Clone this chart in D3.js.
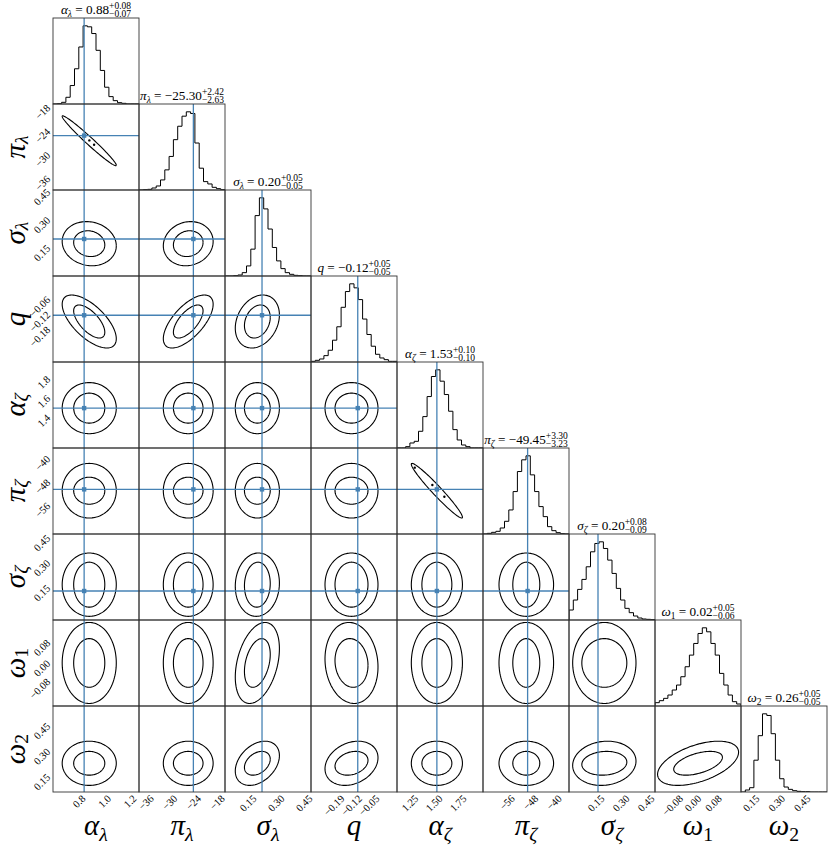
<!DOCTYPE html>
<html>
<head>
<meta charset="utf-8">
<script src="https://cdn.jsdelivr.net/npm/d3@7"></script>
<style>
body { margin: 0; background: #fff; }
svg text { font-family: "Liberation Serif", "DejaVu Serif", serif; fill: #000; }
</style>
</head>
<body>
<svg id="chart" width="830" height="845"></svg>
<script>
// parameter names (symbol + subscript)
const symbols = ["α", "π", "σ", "q", "α", "π", "σ", "ω", "ω"];
const subs = ["λ", "λ", "λ", "", "ζ", "ζ", "ζ", "1", "2"];

// summary values shown in the titles
const medians = [0.88, -25.30, 0.20, -0.12, 1.53, -49.45, 0.20, 0.02, 0.26];
const errPlus = [0.08, 2.42, 0.05, 0.05, 0.10, 3.30, 0.08, 0.05, 0.05];
const errMinus = [0.07, 2.63, 0.05, 0.05, 0.10, 3.23, 0.09, 0.06, 0.05];

// true values (blue lines), none for the omegas
const truths = [0.84, -24, 0.225, -0.095, 1.53, -49, 0.162, null, null];

// axis ranges
const ranges = [
    [0.596, 1.27], [-37.75, -16], [0.027, 0.487], [-0.282, 0.062], [1.115, 2.01],
    [-64.2, -34.9], [-0.012, 0.504], [-0.148, 0.1875], [0.091, 0.597]
];

// tick labels
const xTicks = [
    [0.8, 1.0, 1.2], [-36, -30, -24, -18], [0.15, 0.30, 0.45], [-0.19, -0.12, -0.05],
    [1.25, 1.50, 1.75], [-56, -48, -40], [0.15, 0.30, 0.45], [-0.08, 0.00, 0.08], [0.15, 0.30, 0.45]
];
const xDecimals = [1, 0, 2, 2, 2, 0, 2, 2, 2];
const yTicks = [
    [], [-36, -30, -24, -18], [0.15, 0.30, 0.45], [-0.18, -0.12, -0.06],
    [1.4, 1.6, 1.8], [-56, -48, -40], [0.15, 0.30, 0.45], [-0.08, 0.00, 0.08], [0.15, 0.30, 0.45]
];
const yDecimals = [0, 0, 2, 2, 1, 0, 2, 2, 2];

// 1D histograms, 20 bins across each range
const histCounts = [
    [0, 1, 5, 20, 55, 105, 170, 233, 230, 210, 160, 100, 50, 22, 10, 4, 2, 0, 0, 0],
    [0, 1, 2, 6, 12, 30, 60, 100, 150, 190, 220, 233, 228, 140, 65, 25, 18, 8, 4, 1],
    [0, 0, 1, 3, 10, 30, 80, 180, 233, 200, 140, 85, 45, 22, 10, 5, 2, 1, 0, 0],
    [2, 5, 9, 19, 35, 65, 105, 163, 210, 233, 221, 186, 128, 82, 47, 23, 12, 7, 2, 2],
    [0, 0, 4, 15, 20, 50, 94, 154, 214, 234, 200, 160, 110, 55, 24, 9, 4, 0, 0, 0],
    [0, 2, 5, 8, 18, 38, 72, 127, 187, 222, 234, 177, 127, 82, 52, 22, 10, 4, 1, 0],
    [30, 60, 92, 122, 160, 205, 230, 235, 215, 180, 140, 95, 60, 35, 22, 12, 6, 3, 2, 1],
    [10, 16, 23, 33, 48, 63, 88, 118, 153, 188, 218, 235, 223, 188, 153, 98, 63, 33, 13, 6],
    [0, 6, 13, 96, 170, 236, 231, 176, 96, 40, 15, 8, 4, 2, 1, 1, 0, 0, 0, 0]
];

// contour half-widths (inner, outer) per parameter, in data units
const innerHalf = [0.122, 3.75, 0.069, 0.066, 0.156, 4.6, 0.135, 0.095, 0.07];
const outerHalf = [0.212, 6.3, 0.118, 0.106, 0.266, 9.3, 0.19, 0.158, 0.13];

// correlation for each 2D panel (row i, columns 0..i-1)
const correlations = [
    [],
    [-0.98],
    [-0.1, 0.1],
    [-0.65, 0.65, 0.25],
    [0, 0, 0, 0],
    [0, 0, 0, 0, -0.97],
    [0, 0, 0.05, 0, 0, 0],
    [0, 0, 0.35, -0.1, 0, 0, 0],
    [0, 0, 0.35, 0.25, 0, 0, 0.1, 0.5]
];

// loose sample points in the two thin panels
const pointsPanel = [
    { row: 1, col: 0, pts: [[0.881, -25.2], [0.918, -26.3]] },
    { row: 5, col: 4, pts: [[1.483, -47.5], [1.608, -51.5], [1.30, -41.6]] }
];

const n = symbols.length;
const padLeft = 53, padTop = 18, size = 86;
const blue = "#4682b4";
const svg = d3.select("#chart");

const xs = ranges.map((r, i) => d3.scaleLinear().domain(r).range([padLeft + i * size, padLeft + (i + 1) * size]));
const ys = ranges.map((r, i) => d3.scaleLinear().domain(r).range([padTop + (i + 1) * size, padTop + i * size]));

const fmt = (v, d) => {
    const s = Math.abs(v).toFixed(d);
    return (v < 0 && +s !== 0 ? "\u2212" : "") + s;
};

const defs = svg.append("defs");
for (let i = 0; i < n; i++) {
    for (let j = 0; j <= i; j++) {
        defs.append("clipPath").attr("id", `clip-${i}-${j}`)
            .append("rect")
            .attr("x", padLeft + j * size).attr("y", padTop + i * size)
            .attr("width", size).attr("height", size);
    }
}

const line = d3.line();

function ellipse(cx, cy, ax, ay, rho) {
    const s = Math.sqrt(1 - rho * rho);
    return d3.range(0, 121).map(k => {
        const t = k / 120 * 2 * Math.PI;
        return [cx + ax * Math.cos(t), cy + ay * (rho * Math.cos(t) + s * Math.sin(t))];
    });
}

// histograms on the diagonal
for (let i = 0; i < n; i++) {
    const counts = histCounts[i];
    const binW = (ranges[i][1] - ranges[i][0]) / counts.length;
    const hy = d3.scaleLinear().domain([0, 1.1 * d3.max(counts)])
        .range([padTop + (i + 1) * size, padTop + i * size]);
    const pts = [[ranges[i][0], 0]];
    counts.forEach((c, k) => {
        pts.push([ranges[i][0] + k * binW, c]);
        pts.push([ranges[i][0] + (k + 1) * binW, c]);
    });
    pts.push([ranges[i][1], 0]);
    svg.append("path")
        .attr("clip-path", `url(#clip-${i}-${i})`)
        .attr("d", line(pts.map(p => [xs[i](p[0]), hy(p[1])])))
        .attr("fill", "none").attr("stroke", "#000").attr("stroke-width", 1);
}

// 2D contours
for (let i = 1; i < n; i++) {
    for (let j = 0; j < i; j++) {
        const rho = correlations[i][j];
        const g = svg.append("g").attr("clip-path", `url(#clip-${i}-${j})`);
        const levels = Math.abs(rho) > 0.95 ? [outerHalf] : [innerHalf, outerHalf];
        levels.forEach(h => {
            const pts = ellipse(medians[j], medians[i], h[j], h[i], rho);
            g.append("path")
                .attr("d", line(pts.map(p => [xs[j](p[0]), ys[i](p[1])])))
                .attr("fill", "none").attr("stroke", "#000").attr("stroke-width", 1.1);
        });
    }
}

pointsPanel.forEach(p => {
    svg.append("g").selectAll("circle").data(p.pts).enter().append("circle")
        .attr("cx", d => xs[p.col](d[0]))
        .attr("cy", d => ys[p.row](d[1]))
        .attr("r", 1.2).attr("fill", "#000");
});

// truth lines and markers
const bottomY = padTop + n * size;
for (let j = 0; j < n; j++) {
    if (truths[j] === null) continue;
    const x = xs[j](truths[j]);
    svg.append("line")
        .attr("x1", x).attr("x2", x)
        .attr("y1", padTop + j * size).attr("y2", bottomY)
        .attr("stroke", blue).attr("stroke-width", 1.3);
}
for (let i = 1; i < n; i++) {
    if (truths[i] === null) continue;
    const y = ys[i](truths[i]);
    svg.append("line")
        .attr("x1", padLeft).attr("x2", padLeft + i * size)
        .attr("y1", y).attr("y2", y)
        .attr("stroke", blue).attr("stroke-width", 1.3);
    for (let j = 0; j < i; j++) {
        if (truths[j] === null) continue;
        svg.append("rect")
            .attr("x", xs[j](truths[j]) - 2.2).attr("y", y - 2.2)
            .attr("width", 4.4).attr("height", 4.4)
            .attr("fill", blue);
    }
}

// panel frames
for (let i = 0; i < n; i++) {
    for (let j = 0; j <= i; j++) {
        svg.append("rect")
            .attr("x", padLeft + j * size).attr("y", padTop + i * size)
            .attr("width", size).attr("height", size)
            .attr("fill", "none").attr("stroke", "#333").attr("stroke-width", 0.9);
    }
}

// tick labels, rotated 45 degrees and centred on the tick
const tickFont = 10.5;
function tickLabel(str, place) {
    const t = svg.append("text")
        .attr("font-size", tickFont)
        .attr("text-anchor", "middle")
        .attr("dy", "0.35em")
        .text(str);
    const w = t.node().getComputedTextLength();
    const off = 2 + (w + 0.7 * tickFont) / (2 * Math.SQRT2);
    const [cx, cy] = place(off);
    t.attr("transform", `translate(${cx},${cy}) rotate(-45)`);
}
for (let j = 0; j < n; j++) {
    xTicks[j].forEach(v => tickLabel(fmt(v, xDecimals[j]), off => [xs[j](v), bottomY + off]));
}
for (let i = 1; i < n; i++) {
    yTicks[i].forEach(v => tickLabel(fmt(v, yDecimals[i]), off => [padLeft - off, ys[i](v)]));
}

// axis labels
function axisLabel(sel, i, big, drop) {
    sel.append("tspan").attr("font-style", "italic").text(symbols[i]);
    if (subs[i]) {
        const numeric = /\d/.test(subs[i]);
        sel.append("tspan")
            .attr("font-style", numeric ? "normal" : "italic")
            .attr("font-size", big * 0.68)
            .attr("dy", big * drop)
            .text(subs[i]);
    }
}
const labelFont = 29;
for (let j = 0; j < n; j++) {
    const t = svg.append("text")
        .attr("x", padLeft + (j + 0.5) * size).attr("y", 835)
        .attr("text-anchor", "middle").attr("font-size", labelFont);
    axisLabel(t, j, labelFont, 0.2);
}
for (let i = 1; i < n; i++) {
    const cy = padTop + (i + 0.5) * size;
    const t = svg.append("text")
        .attr("transform", `translate(25,${cy}) rotate(-90)`)
        .attr("text-anchor", "middle").attr("font-size", labelFont);
    axisLabel(t, i, labelFont, 0.1);
}

// titles over the histograms
const titleFont = 13.2, smallFont = 9.5;
for (let i = 0; i < n; i++) {
    const base = padTop + i * size - 4;
    const g = svg.append("g");
    const t = g.append("text").attr("y", base).attr("font-size", titleFont);
    t.append("tspan").attr("font-style", "italic").text(symbols[i]);
    if (subs[i]) {
        const numeric = /\d/.test(subs[i]);
        t.append("tspan").attr("font-style", numeric ? "normal" : "italic")
            .attr("font-size", smallFont).attr("dy", 2.5).text(subs[i]);
        t.append("tspan").attr("dy", -2.5).text(" = " + fmt(medians[i], 2));
    } else {
        t.append("tspan").text(" = " + fmt(medians[i], 2));
    }
    const w = t.node().getComputedTextLength();
    const sup = g.append("text").attr("y", base - 5.5).attr("font-size", smallFont)
        .text("+" + errPlus[i].toFixed(2));
    const sub = g.append("text").attr("y", base + 3).attr("font-size", smallFont)
        .text("\u2212" + errMinus[i].toFixed(2));
    const extra = Math.max(sup.node().getComputedTextLength(), sub.node().getComputedTextLength());
    const x0 = padLeft + (i + 0.5) * size - (w + extra) / 2;
    t.attr("x", x0);
    sup.attr("x", x0 + w);
    sub.attr("x", x0 + w);
}
</script>
</body>
</html>
